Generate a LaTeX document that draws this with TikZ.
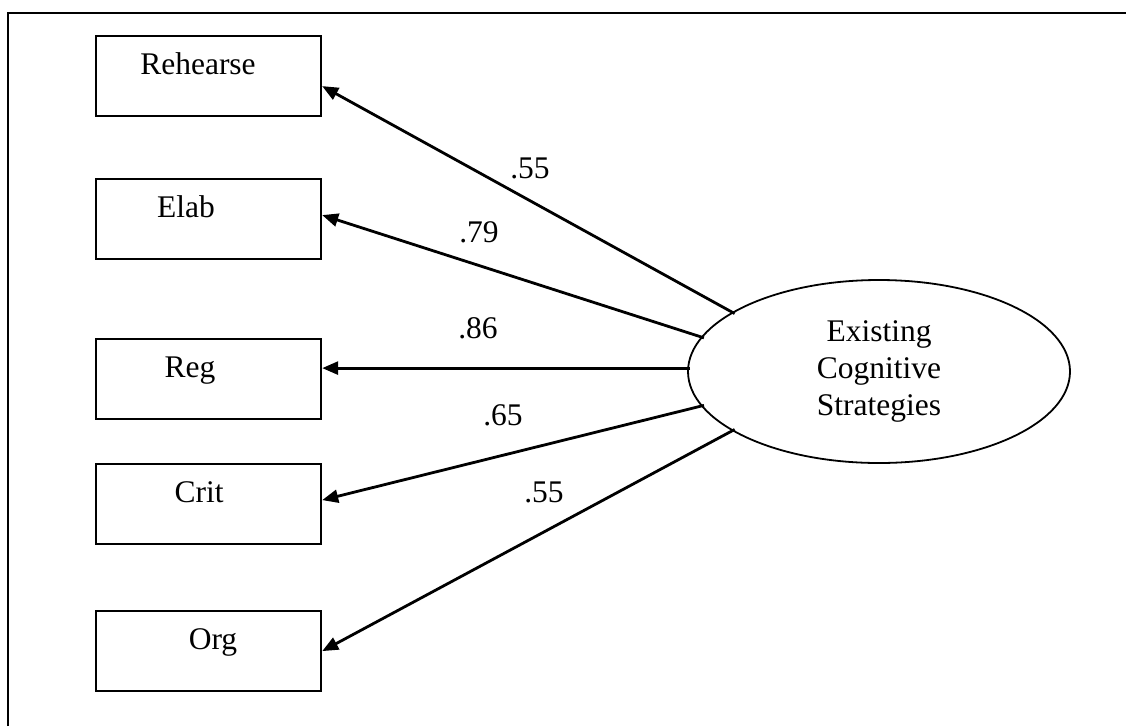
\documentclass[tikz,border=0pt]{standalone}
\usepackage{fontspec}
\setmainfont{Liberation Serif}
\usetikzlibrary{shapes.geometric,arrows.meta}
\begin{document}
\begin{tikzpicture}[x=1pt,y=-1pt,
  obsbox/.style={draw,line width=2.2pt,minimum width=225pt,minimum height=80pt,inner sep=0pt,anchor=north west},
  boxtext/.style={anchor=base,inner sep=0pt},
  latent/.style={draw,ellipse,line width=1.8pt,minimum width=382pt,minimum height=183pt,inner sep=0pt,align=center},
  loadarrow/.style={line width=2.8pt,-{Triangle[length=16pt,width=13pt]},shorten <=-3pt},
  coef/.style={anchor=base,inner sep=0pt},
  txt/.style={font=\fontsize{31.5}{37}\selectfont}]
\useasboundingbox (0,0) rectangle (1126,726);
\draw[line width=2.2pt] (8,726) -- (8,13) -- (1126,13);
% boxes
\node[obsbox] (reh) at (95,35) {};
\node[obsbox] (ela) at (95,178) {};
\node[obsbox] (reg) at (95,338) {};
\node[obsbox] (cri) at (95,463) {};
\node[obsbox] (org) at (95,610) {};
\node[boxtext,txt] (rehT) at (198,74) {Rehearse};
\node[boxtext,txt] (elaT) at (186,217) {Elab};
\node[boxtext,txt] (regT) at (190,377) {Reg};
\node[boxtext,txt] (criT) at (199,502) {Crit};
\node[boxtext,txt] (orgT) at (213,649) {Org};
% latent
\node[latent,txt] (ecs) at (879,371.5) {Existing\\Cognitive\\Strategies};
% arrows
\coordinate (regtip) at ([yshift=11pt]reg.east);
\draw[loadarrow] (ecs.158.4) -- ([yshift=-10pt]reh.east);
\draw[loadarrow] (ecs.169) -- ([yshift=4pt]ela.east);
\draw[loadarrow] (regtip -| ecs.west) -- (regtip);
\draw[loadarrow] (ecs.191.9) -- ([yshift=4pt]cri.east);
\draw[loadarrow] (ecs.202.9) -- (org.east);
% coefficients
\node[coef,txt] (c1) at (530,178) {.55};
\node[coef,txt] (c2) at (479,242) {.79};
\node[coef,txt] (c3) at (478,338) {.86};
\node[coef,txt] (c4) at (503,425) {.65};
\node[coef,txt] (c5) at (544,502) {.55};
\end{tikzpicture}
\end{document}
